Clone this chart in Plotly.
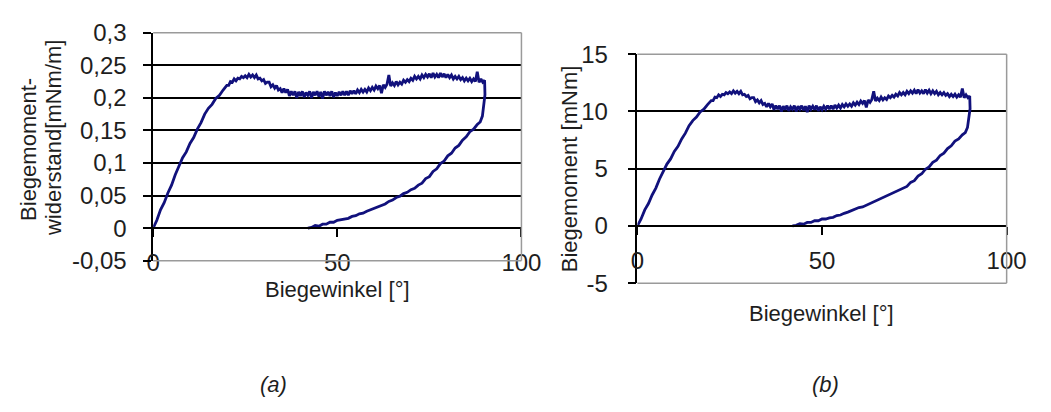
import plotly.graph_objects as go

# ---------------- data ----------------
# sampling grid of the loading branch (deg): 1 deg up to 19, then 0.5 deg
load_angle = list(range(0, 20)) + [20 + 0.5 * i for i in range(141)]

# (a) Biegemomentwiderstand [mNm/m]
load_a = [0.000, 0.012, 0.028, 0.039, 0.054, 0.066, 0.082, 0.094, 0.108, 0.117,
          0.130, 0.139, 0.152, 0.162, 0.175, 0.184, 0.190, 0.199, 0.204, 0.212,
          0.219, 0.219, 0.225, 0.224, 0.229, 0.226, 0.230, 0.229, 0.233, 0.231,
          0.234, 0.231, 0.236, 0.232, 0.235, 0.231, 0.235, 0.229, 0.230, 0.226,
          0.228, 0.222, 0.224, 0.224, 0.217, 0.220, 0.215, 0.219, 0.212, 0.214,
          0.208, 0.214, 0.208, 0.213, 0.203, 0.210, 0.204, 0.210, 0.200, 0.209,
          0.203, 0.210, 0.201, 0.208, 0.204, 0.210, 0.200, 0.209, 0.204, 0.210,
          0.202, 0.209, 0.199, 0.210, 0.204, 0.209, 0.203, 0.210, 0.201, 0.208,
          0.203, 0.209, 0.204, 0.210, 0.204, 0.210, 0.204, 0.211, 0.206, 0.211,
          0.206, 0.212, 0.208, 0.213, 0.209, 0.213, 0.209, 0.215, 0.211, 0.216,
          0.212, 0.218, 0.214, 0.219, 0.207, 0.220, 0.216, 0.221, 0.235, 0.218,
          0.223, 0.219, 0.225, 0.220, 0.224, 0.221, 0.227, 0.224, 0.228, 0.225,
          0.230, 0.227, 0.233, 0.229, 0.233, 0.229, 0.235, 0.231, 0.236, 0.232,
          0.237, 0.231, 0.238, 0.232, 0.236, 0.231, 0.238, 0.232, 0.237, 0.231,
          0.236, 0.231, 0.235, 0.229, 0.233, 0.229, 0.233, 0.228, 0.231, 0.226,
          0.230, 0.226, 0.230, 0.225, 0.229, 0.225, 0.240, 0.224, 0.229, 0.224,
          0.227]
unload_angle = [90, 90.1, 89.9, 89.7, 89.4, 88.8, 88, 87, 86, 85, 84, 83, 82, 81,
                80, 79, 78, 77, 76, 75, 74, 73, 72, 71, 70, 69, 68, 67, 66, 65,
                64, 63, 62, 61, 60, 59, 58, 57, 56, 55, 54, 53, 52, 51, 50, 49,
                48, 47, 46, 45, 44, 43, 42]
unload_a = [0.227, 0.205, 0.193, 0.178, 0.172, 0.163, 0.159, 0.152, 0.148, 0.140,
            0.135, 0.127, 0.123, 0.115, 0.111, 0.103, 0.099, 0.091, 0.087, 0.079,
            0.076, 0.069, 0.066, 0.061, 0.059, 0.055, 0.053, 0.049, 0.047, 0.043,
            0.041, 0.037, 0.035, 0.032, 0.031, 0.028, 0.026, 0.023, 0.022, 0.019,
            0.018, 0.015, 0.014, 0.012, 0.012, 0.009, 0.009, 0.006, 0.006, 0.003,
            0.004, 0.001, 0.000]
return_angle = [42, 0]
return_a = [0.0, 0.0]

# (b) Biegemoment [mNm]
load_b = [0.0, 0.6, 1.4, 1.95, 2.7, 3.3, 4.1, 4.7, 5.4, 5.85,
          6.5, 6.95, 7.6, 8.1, 8.75, 9.2, 9.5, 9.95, 10.2, 10.6,
          10.95, 10.95, 11.25, 11.2, 11.45, 11.3, 11.5, 11.45, 11.65, 11.55,
          11.7, 11.55, 11.8, 11.6, 11.75, 11.55, 11.75, 11.45, 11.5, 11.3,
          11.4, 11.1, 11.2, 11.2, 10.85, 11.0, 10.75, 10.95, 10.6, 10.7,
          10.4, 10.7, 10.4, 10.65, 10.15, 10.5, 10.2, 10.5, 10.0, 10.45,
          10.15, 10.5, 10.05, 10.4, 10.2, 10.5, 10.0, 10.45, 10.2, 10.5,
          10.1, 10.45, 9.95, 10.5, 10.2, 10.45, 10.15, 10.5, 10.05, 10.4,
          10.15, 10.45, 10.2, 10.5, 10.2, 10.5, 10.2, 10.55, 10.3, 10.55,
          10.3, 10.6, 10.4, 10.65, 10.45, 10.65, 10.45, 10.75, 10.55, 10.8,
          10.6, 10.9, 10.7, 10.95, 10.35, 11.0, 10.8, 11.05, 11.75, 10.9,
          11.15, 10.95, 11.25, 11.0, 11.2, 11.05, 11.35, 11.2, 11.4, 11.25,
          11.5, 11.35, 11.65, 11.45, 11.65, 11.45, 11.75, 11.55, 11.8, 11.6,
          11.85, 11.55, 11.9, 11.6, 11.8, 11.55, 11.9, 11.6, 11.85, 11.55,
          11.8, 11.55, 11.75, 11.45, 11.65, 11.45, 11.65, 11.4, 11.55, 11.3,
          11.5, 11.3, 11.5, 11.25, 11.45, 11.25, 12.0, 11.2, 11.45, 11.2,
          11.35]
unload_b = [11.35, 10.25, 9.65, 8.9, 8.6, 8.15, 7.95, 7.6, 7.4, 7.0,
            6.75, 6.35, 6.15, 5.75, 5.55, 5.15, 4.95, 4.55, 4.35, 3.95,
            3.8, 3.45, 3.3, 3.1, 2.95, 2.8, 2.7, 2.5, 2.4, 2.2,
            2.1, 1.9, 1.8, 1.65, 1.6, 1.45, 1.35, 1.2, 1.1, 0.95,
            0.9, 0.75, 0.7, 0.6, 0.6, 0.45, 0.45, 0.3, 0.3, 0.15,
            0.2, 0.05, 0.0]
return_b = [0.0, 0.0]

ytick_a = [-0.05, 0, 0.05, 0.1, 0.15, 0.2, 0.25, 0.3]
ytext_a = ["-0,05", "0", "0,05", "0,1", "0,15", "0,2", "0,25", "0,3"]
ytick_b = [-5, 0, 5, 10, 15]
ytext_b = ["-5", "0", "5", "10", "15"]
xtick = [0, 50, 100]
xtext = ["0", "50", "100"]

# ---------------- styling ----------------
W, H = 1051, 412
FONT = "Liberation Sans, Arial, sans-serif"
TXT = "#1e1e1e"
CURVE = "#11117c"
RET = "#2a2aa0"
BORDER = "#9a9a9a"

def px_x(p):
    return p / W

def px_y(p):
    return 1 - p / H

# pixel boxes of plot areas
A = dict(l=150, r=528, t=20, b=264, zero=229)
B = dict(l=647, r=1026, t=43, b=288, zero=227)

fig = go.Figure()
for xa, ya, ld, ud, rd in [("x", "y", load_a, unload_a, return_a),
                           ("x2", "y2", load_b, unload_b, return_b)]:
    fig.add_trace(go.Scatter(x=return_angle, y=rd, mode="lines", xaxis=xa, yaxis=ya,
                             line=dict(color=RET, width=1.4), showlegend=False))
    fig.add_trace(go.Scatter(x=load_angle + unload_angle, y=ld + ud, mode="lines",
                             xaxis=xa, yaxis=ya,
                             line=dict(color=CURVE, width=2.8), showlegend=False))

tickfont = dict(family=FONT, size=24, color=TXT)

def xax(box):
    return dict(domain=[px_x(box["l"]), px_x(box["r"])], range=[0, 100],
                anchor="free", position=px_y(box["zero"]),
                showline=True, linecolor="black", linewidth=1.5,
                ticks="outside", ticklen=8, tickcolor="black", tickwidth=1.5,
                tickvals=xtick, ticktext=xtext, showgrid=False, zeroline=False,
                tickfont=tickfont, ticklabelstandoff=5, fixedrange=True)

def yax(box, rng, tv, tt, anchor, standoff):
    return dict(domain=[px_y(box["b"]), px_y(box["t"])], range=rng,
                anchor=anchor, showline=True, linecolor="black", linewidth=1.5,
                ticks="outside", ticklen=8, tickcolor="black", tickwidth=1.5,
                tickvals=tv, ticktext=tt, showgrid=True, gridcolor="black",
                gridwidth=1.5, zeroline=False, tickfont=tickfont,
                ticklabelstandoff=standoff, fixedrange=True)

shapes = []
for xr, yr in [("x domain", "y domain"), ("x2 domain", "y2 domain")]:
    for (x0, y0, x1, y1) in [(0, 1, 1, 1), (1, 0, 1, 1), (0, 0, 1, 0)]:
        shapes.append(dict(type="line", xref=xr, yref=yr, x0=x0, y0=y0, x1=x1, y1=y1,
                           line=dict(color=BORDER, width=1.5), layer="above"))

ann_font = dict(family=FONT, size=22, color=TXT)
annotations = [
    dict(text="Biegemoment-", x=px_x(22), y=px_y(145), xref="paper", yref="paper",
         textangle=-90, showarrow=False, font=ann_font, xanchor="center", yanchor="middle"),
    dict(text="widerstand[mNm/m]", x=px_x(48), y=px_y(132), xref="paper", yref="paper",
         textangle=-90, showarrow=False, font=ann_font, xanchor="center", yanchor="middle"),
    dict(text="Biegemoment [mNm]", x=px_x(577), y=px_y(166), xref="paper", yref="paper",
         textangle=-90, showarrow=False, font=ann_font, xanchor="center", yanchor="middle"),
    dict(text="Biegewinkel [°]", x=px_x(339), y=px_y(295), xref="paper", yref="paper",
         showarrow=False, font=ann_font, xanchor="center", yanchor="middle"),
    dict(text="Biegewinkel [°]", x=px_x(836), y=px_y(320), xref="paper", yref="paper",
         showarrow=False, font=ann_font, xanchor="center", yanchor="middle"),
    dict(text="<i>(a)</i>", x=px_x(274), y=px_y(397), xref="paper", yref="paper",
         showarrow=False, font=ann_font, xanchor="center", yanchor="middle"),
    dict(text="<i>(b)</i>", x=px_x(840), y=px_y(397), xref="paper", yref="paper",
         showarrow=False, font=ann_font, xanchor="center", yanchor="middle"),
]

fig.update_layout(
    width=W, height=H, margin=dict(l=0, r=0, t=0, b=0),
    paper_bgcolor="white", plot_bgcolor="white",
    xaxis=xax(A), xaxis2=xax(B),
    yaxis=yax(A, [-0.05, 0.3], ytick_a, ytext_a, "x", 12),
    yaxis2=yax(B, [-5, 15], ytick_b, ytext_b, "x2", 15),
    shapes=shapes, annotations=annotations, showlegend=False,
)

fig.write_html("out.html", config=dict(displayModeBar=False))
